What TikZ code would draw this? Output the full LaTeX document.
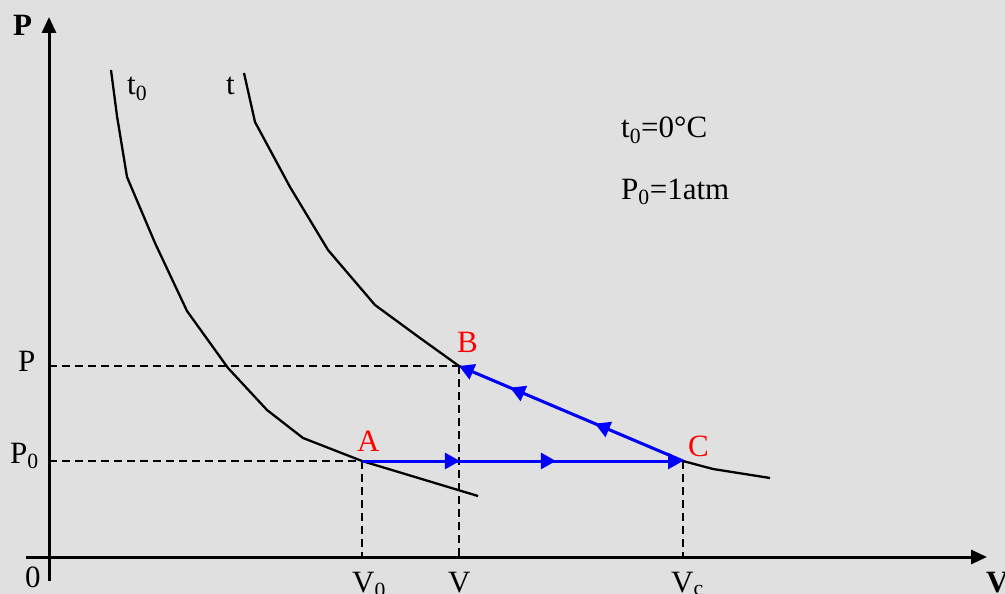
\documentclass[tikz,border=0pt]{standalone}
\usepackage{fontspec}
\setmainfont{Liberation Serif}
\usetikzlibrary{arrows.meta,decorations.markings}
\definecolor{bgcol}{RGB}{224,224,224}
\definecolor{ptred}{RGB}{255,0,0}
\definecolor{pathblue}{RGB}{0,0,255}
\begin{document}
\begin{tikzpicture}[x=1pt,y=-1pt,
  axis/.style={line width=3pt,-{Triangle[length=16pt,width=14pt]}},
  curve/.style={line width=2.3pt,line join=round},
  guide/.style={line width=1.6pt,dash pattern=on 8pt off 5pt},
  procline/.style={line width=3pt,color=pathblue,-{Triangle[length=15pt,width=16pt]}},
  lbl/.style={inner sep=0pt,anchor=base west,font=\fontsize{31}{37}\selectfont},
  ptlbl/.style={lbl,text=ptred}]
\fill[bgcol] (0,0) rectangle (1005,594);
\useasboundingbox (0,0) rectangle (1005,594);
% coordinates
\coordinate (Ytop) at (49,17);
\coordinate (Ybot) at (49,581);
\coordinate (Xleft) at (26,557);
\coordinate (Xright) at (987,557);
\coordinate (A) at (362,461);
\coordinate (B) at (459,366);
\coordinate (C) at (683,461);
\coordinate (PA) at (49,461);
\coordinate (PB) at (49,366);
\coordinate (VA) at (362,557);
\coordinate (VB) at (459,557);
\coordinate (VC) at (683,557);
% axes
\draw[axis] (Ybot) -- (Ytop);
\draw[axis] (Xleft) -- (Xright);
% isotherms
\draw[curve] (111,70) -- (117,116) -- (127,177) -- (155,243) -- (187,311) -- (228,368)
  -- (267,410) -- (303,438) -- (A) -- (478,496);
\draw[curve] (244,73) -- (255,122) -- (290,187) -- (328,250) -- (375,305) -- (420,338)
  -- (B) -- (C) -- (713,469) -- (770,478);
% guides
\draw[guide] (PB) -- (B);
\draw[guide] (B) -- (VB);
\draw[guide] (PA) -- (A);
\draw[guide] (A) -- (VA);
\draw[guide] (C) -- (VC);
% process
\draw[procline,
  decoration={markings,
    mark=at position 0.305 with {\arrow{Triangle[length=15pt,width=16pt]}},
    mark=at position 0.604 with {\arrow{Triangle[length=15pt,width=16pt]}}},
  postaction={decorate}] (A) -- (C);
\draw[procline,yshift=-2pt,
  decoration={markings,
    mark=at position 0.393 with {\arrow{Triangle[length=15pt,width=16pt]}},
    mark=at position 0.772 with {\arrow{Triangle[length=15pt,width=16pt]}}},
  postaction={decorate}] (C) -- (B);
% labels
\node[lbl] (Pax) at (13,36) {\textbf{P}};
\node[lbl] (Vax) at (986,592) {\textbf{V}};
\node[lbl] (t0lab) at (127,95) {t\textsubscript{0}};
\node[lbl] (tlab) at (226,95) {t};
\node[lbl] (cond1) at (621,138) {t\textsubscript{0}=0°C};
\node[lbl] (cond2) at (621,199) {P\textsubscript{0}=1atm};
\node[lbl] (Pl) at (18,371) {P};
\node[lbl] (P0l) at (10,463) {P\textsubscript{0}};
\node[lbl] (Ol) at (25,587) {0};
\node[lbl] (V0l) at (352,592) {V\textsubscript{0}};
\node[lbl] (Vl) at (448,592) {V};
\node[lbl] (Vcl) at (671,592) {V\textsubscript{c}};
\node[ptlbl] (Al) at (357,451) {A};
\node[ptlbl] (Bl) at (457,352) {B};
\node[ptlbl] (Cl) at (688,456) {C};
\end{tikzpicture}
\end{document}
